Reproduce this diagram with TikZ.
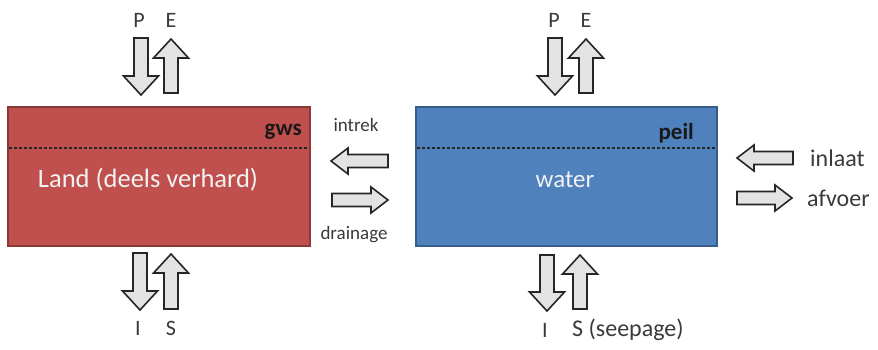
\documentclass[tikz,border=0pt]{standalone}
\usepackage{fontspec}
\setmainfont{Carlito}
\definecolor{landfill}{HTML}{C0504D}
\definecolor{landline}{HTML}{8C3A38}
\definecolor{waterfill}{HTML}{4F81BD}
\definecolor{waterline}{HTML}{385D8A}
\definecolor{labelgray}{HTML}{3A3A3A}
\tikzset{
  barrow/.style={draw=black!85, fill=gray!22, line width=1.6pt, line join=miter},
  flowlabel/.style={text=labelgray, inner sep=0pt, font=\fontsize{19}{19}\selectfont},
  sidelabel/.style={text=labelgray, inner sep=0pt, font=\fontsize{22}{22}\selectfont},
  outlabel/.style={text=labelgray, inner sep=0pt, font=\fontsize{24}{24}\selectfont},
  boxlabel/.style={text=white!95!black, inner sep=0pt},
  levellabel/.style={text=black!90, inner sep=0pt, font=\bfseries\fontsize{23}{23}\selectfont},
  levelline/.style={black!85, line width=1.1pt, dash pattern=on 3pt off 2pt},
}
% vertical block arrows: centre x, tail y, tip y
\newcommand\vblock[3]{%
  \draw[barrow] ({#1-7},#2) -- ({#1+7},#2) -- ({#1+7},{#3-19*sign(#3-#2)})
    -- ({#1+17.5},{#3-19*sign(#3-#2)}) -- (#1,#3) -- ({#1-17.5},{#3-19*sign(#3-#2)})
    -- ({#1-7},{#3-19*sign(#3-#2)}) -- cycle;}
% horizontal block arrows: centre y, tail x, tip x
\newcommand\hblock[3]{%
  \draw[barrow] (#2,{#1-6.5}) -- (#2,{#1+6.5}) -- ({#3-17*sign(#3-#2)},{#1+6.5})
    -- ({#3-17*sign(#3-#2)},{#1+13}) -- (#3,#1) -- ({#3-17*sign(#3-#2)},{#1-13})
    -- ({#3-17*sign(#3-#2)},{#1-6.5}) -- cycle;}
\begin{document}
\begin{tikzpicture}[x=1pt,y=-1pt]
  \useasboundingbox[fill=white] (0,0) rectangle (878,349);

  % land compartment
  \draw[fill=landfill, draw=landline, line width=1.8pt] (8,107) rectangle (310,246);
  \draw[levelline] (9,148) -- (309,148);
  \node[levellabel, anchor=base east] (gws) at (302,135) {gws};
  \node[boxlabel, font=\fontsize{26.5}{26.5}\selectfont] (land) at (148,180) {Land (deels verhard)};

  % water compartment
  \draw[fill=waterfill, draw=waterline, line width=1.8pt] (416,107) rectangle (717,246);
  \draw[levelline] (417,148) -- (716,148);
  \node[levellabel, anchor=base east] (peil) at (694,139) {peil};
  \node[boxlabel, font=\fontsize{25}{25}\selectfont] (water) at (565,180) {water};

  % vertical exchanges of the land compartment
  \vblock{141}{38}{95}
  \vblock{171}{93}{39}
  \node[sidelabel] (pland) at (139,20) {P};
  \node[sidelabel] (eland) at (171,20) {E};
  \vblock{140}{253}{310}
  \vblock{171}{309}{254}
  \node[sidelabel] (iland) at (138,328) {I};
  \node[sidelabel] (sland) at (171,328) {S};

  % vertical exchanges of the water compartment
  \vblock{555}{38}{95}
  \vblock{586}{93}{39}
  \node[sidelabel] (pwater) at (554,20) {P};
  \node[sidelabel] (ewater) at (586,20) {E};
  \vblock{547}{255}{311}
  \vblock{580}{309}{255}
  \node[sidelabel] (iwater) at (545,330) {I};
  \node[outlabel, anchor=west] (swater) at (572,330) {S (seepage)};

  % land <-> water
  \hblock{161}{388}{331}
  \hblock{200}{332}{388}
  \node[flowlabel] (intrek) at (356,125) {intrek};
  \node[flowlabel] (drainage) at (354,235) {drainage};

  % water <-> outside
  \hblock{158}{793}{737}
  \hblock{198}{737}{792}
  \node[outlabel, anchor=west] (inlaat) at (810,158) {inlaat};
  \node[outlabel, anchor=west] (afvoer) at (807,198) {afvoer};
\end{tikzpicture}
\end{document}
